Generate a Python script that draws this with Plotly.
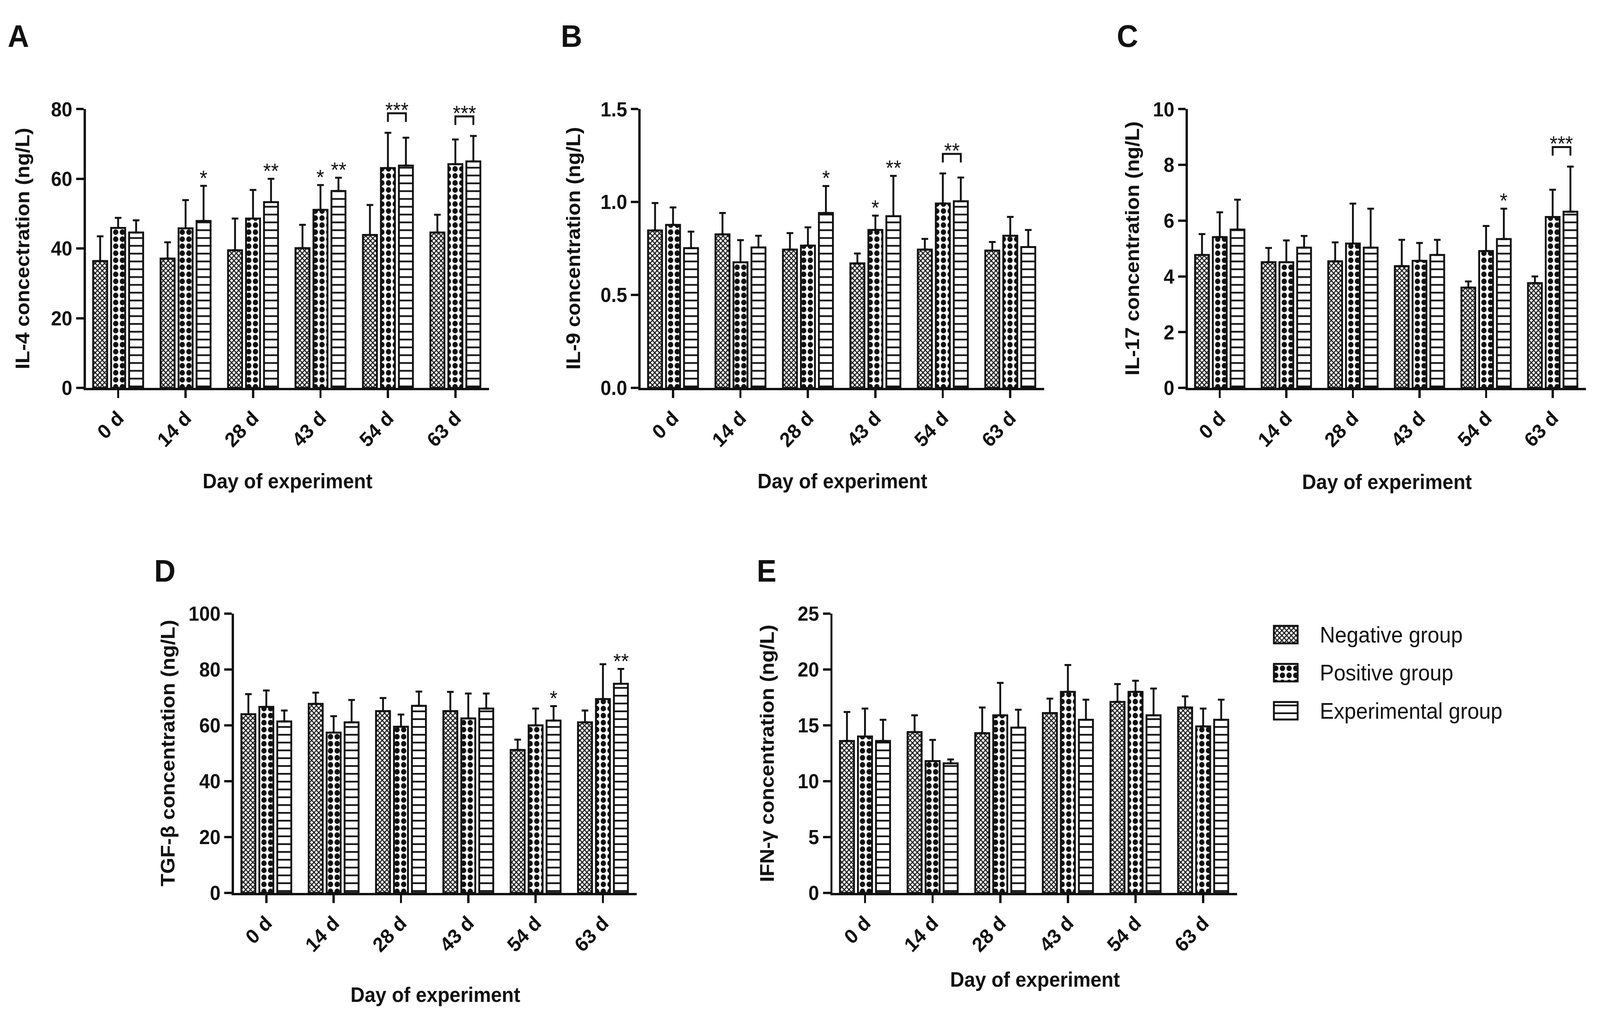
import plotly.graph_objects as go

# ---------------- data ----------------
days = ["0 d", "14 d", "28 d", "43 d", "54 d", "63 d"]
groups = ["Negative group", "Positive group", "Experimental group"]

# A: IL-4
il4_neg = [36.4, 37.1, 39.5, 40.1, 43.9, 44.6]
il4_neg_sd = [7.1, 4.7, 9.1, 6.7, 8.6, 5.1]
il4_pos = [45.9, 45.8, 48.6, 51.1, 63.1, 64.2]
il4_pos_sd = [2.9, 8.1, 8.2, 7.1, 10.1, 7.1]
il4_exp = [44.6, 47.9, 53.3, 56.5, 63.8, 65.0]
il4_exp_sd = [3.5, 10.1, 6.7, 3.8, 8.0, 7.3]
il4_ticks = [0, 20, 40, 60, 80]
il4_ticktext = ["0", "20", "40", "60", "80"]
il4_stars = [(1, 2, "*"), (2, 2, "**"), (3, 1, "*"), (3, 2, "**")]
il4_brackets = [(4, "***"), (5, "***")]

# B: IL-9
il9_neg = [0.847, 0.826, 0.744, 0.670, 0.744, 0.739]
il9_neg_sd = [0.148, 0.115, 0.089, 0.053, 0.058, 0.046]
il9_pos = [0.877, 0.676, 0.766, 0.850, 0.992, 0.819]
il9_pos_sd = [0.094, 0.119, 0.098, 0.077, 0.162, 0.101]
il9_exp = [0.752, 0.756, 0.941, 0.924, 1.004, 0.758]
il9_exp_sd = [0.089, 0.063, 0.145, 0.217, 0.128, 0.092]
il9_ticks = [0, 0.5, 1.0, 1.5]
il9_ticktext = ["0.0", "0.5", "1.0", "1.5"]
il9_stars = [(2, 2, "*"), (3, 1, "*"), (3, 2, "**")]
il9_brackets = [(4, "**")]

# C: IL-17
il17_neg = [4.77, 4.51, 4.54, 4.37, 3.60, 3.76]
il17_neg_sd = [0.75, 0.51, 0.68, 0.94, 0.22, 0.24]
il17_pos = [5.41, 4.51, 5.18, 4.56, 4.91, 6.13]
il17_pos_sd = [0.89, 0.78, 1.43, 0.64, 0.90, 0.98]
il17_exp = [5.68, 5.03, 5.03, 4.77, 5.34, 6.32]
il17_exp_sd = [1.07, 0.42, 1.40, 0.54, 1.09, 1.62]
il17_ticks = [0, 2, 4, 6, 8, 10]
il17_ticktext = ["0", "2", "4", "6", "8", "10"]
il17_stars = [(4, 2, "*")]
il17_brackets = [(5, "***")]

# D: TGF-beta
tgf_neg = [64.0, 67.7, 65.1, 65.1, 51.2, 61.1]
tgf_neg_sd = [7.2, 4.0, 4.7, 6.9, 3.7, 4.2]
tgf_pos = [66.6, 57.4, 59.5, 62.5, 60.0, 69.4]
tgf_pos_sd = [5.9, 5.9, 4.4, 8.9, 6.0, 12.5]
tgf_exp = [61.4, 61.1, 67.0, 66.0, 61.7, 74.9]
tgf_exp_sd = [3.9, 8.0, 5.1, 5.4, 5.2, 5.3]
tgf_ticks = [0, 20, 40, 60, 80, 100]
tgf_ticktext = ["0", "20", "40", "60", "80", "100"]
tgf_stars = [(4, 2, "*"), (5, 2, "**")]
tgf_brackets = []

# E: IFN-gamma
ifn_neg = [13.6, 14.4, 14.3, 16.1, 17.1, 16.6]
ifn_neg_sd = [2.6, 1.5, 2.3, 1.3, 1.6, 1.0]
ifn_pos = [14.0, 11.8, 15.9, 18.0, 18.0, 14.9]
ifn_pos_sd = [2.5, 1.9, 2.9, 2.4, 1.0, 1.6]
ifn_exp = [13.6, 11.6, 14.8, 15.5, 15.9, 15.5]
ifn_exp_sd = [1.9, 0.35, 1.6, 1.8, 2.4, 1.8]
ifn_ticks = [0, 5, 10, 15, 20, 25]
ifn_ticktext = ["0", "5", "10", "15", "20", "25"]
ifn_stars = []
ifn_brackets = []

x_title = "Day of experiment"

panels = [
    dict(letter="A", ytitle="IL-4 concectration (ng/L)",
         series=[(il4_neg, il4_neg_sd), (il4_pos, il4_pos_sd), (il4_exp, il4_exp_sd)],
         ticks=il4_ticks, ticktext=il4_ticktext, stars=il4_stars, brackets=il4_brackets),
    dict(letter="B", ytitle="IL-9 concentration (ng/L)",
         series=[(il9_neg, il9_neg_sd), (il9_pos, il9_pos_sd), (il9_exp, il9_exp_sd)],
         ticks=il9_ticks, ticktext=il9_ticktext, stars=il9_stars, brackets=il9_brackets),
    dict(letter="C", ytitle="IL-17 concentration (ng/L)",
         series=[(il17_neg, il17_neg_sd), (il17_pos, il17_pos_sd), (il17_exp, il17_exp_sd)],
         ticks=il17_ticks, ticktext=il17_ticktext, stars=il17_stars, brackets=il17_brackets),
    dict(letter="D", ytitle="TGF-β concentration (ng/L)",
         series=[(tgf_neg, tgf_neg_sd), (tgf_pos, tgf_pos_sd), (tgf_exp, tgf_exp_sd)],
         ticks=tgf_ticks, ticktext=tgf_ticktext, stars=tgf_stars, brackets=tgf_brackets),
    dict(letter="E", ytitle="IFN-γ concentration (ng/L)",
         series=[(ifn_neg, ifn_neg_sd), (ifn_pos, ifn_pos_sd), (ifn_exp, ifn_exp_sd)],
         ticks=ifn_ticks, ticktext=ifn_ticktext, stars=ifn_stars, brackets=ifn_brackets),
]

# ---------------- style / layout ----------------
W, H = 4328, 2619
FONT = "Liberation Sans, Arial, Helvetica, sans-serif"
INK = "#111111"

def fx(p):
    return p / W

def fy(p):
    return 1 - p / H

# x0, x1, y_top, y_bottom, letter_x, letter_y, ytitle_x, xtitle_y  (pixels)
boxes = [
    (232, 1323, 256, 986, 19, 17, 60, 1230),
    (1733, 2824, 256, 986, 1515, 17, 1550, 1230),
    (3213, 4290, 256, 986, 3019, 17, 3062, 1232),
    (633, 1722, 1577, 2308, 415, 1417, 454, 2575),
    (2252, 3346, 1577, 2308, 2045, 1417, 2075, 2535),
]

patterns = [
    dict(shape="x", size=9, solidity=0.5),
    dict(shape=".", size=18, solidity=0.5),
    dict(shape="-", size=20, solidity=0.22),
]

BARGAP = 0.2
GROUPGAP = 0.22
SLOT = (1 - BARGAP) / 3

fig = go.Figure()
annotations = []
shapes = []
layout = {}
xs = list(range(len(days)))

for i, (p, b) in enumerate(zip(panels, boxes)):
    n = "" if i == 0 else str(i + 1)
    xa, ya = "x" + n, "y" + n
    x0, x1, yt, yb, lx, ly, tx, xty = b
    for g, (vals, sds) in enumerate(p["series"]):
        pat = patterns[g]
        fig.add_trace(go.Bar(
            x=xs, y=vals, xaxis=xa, yaxis=ya, name=groups[g], showlegend=False,
            marker=dict(color="white", line=dict(color=INK, width=5),
                        pattern=dict(shape=pat["shape"], size=pat["size"],
                                     solidity=pat["solidity"], fgcolor=INK,
                                     bgcolor="white", fillmode="replace")),
            error_y=dict(type="data", symmetric=False, array=sds,
                         arrayminus=[0] * len(sds), color=INK, thickness=5, width=9),
        ))
    ymax = p["ticks"][-1]
    layout["xaxis" + n] = dict(
        domain=[fx(x0), fx(x1)], anchor=ya, range=[-0.48, 5.5],
        tickvals=xs, ticktext=days, tickangle=-45,
        showline=True, linecolor=INK, linewidth=6, ticks="outside", ticklen=20,
        tickwidth=6, tickcolor=INK, showgrid=False, zeroline=False,
        tickfont=dict(family=FONT, size=52, color=INK, weight="bold"),
    )
    layout["yaxis" + n] = dict(
        domain=[fy(yb), fy(yt)], anchor=xa, range=[0, ymax],
        tickvals=p["ticks"], ticktext=p["ticktext"],
        showline=True, linecolor=INK, linewidth=6, ticks="outside", ticklen=20,
        tickwidth=6, tickcolor=INK, showgrid=False, zeroline=False,
        tickfont=dict(family=FONT, size=52, color=INK, weight="bold"),
    )
    annotations.append(dict(text="<b>%s</b>" % p["letter"], xref="paper", yref="paper",
                            x=fx(lx), y=fy(ly), xanchor="left", yanchor="top",
                            showarrow=False, font=dict(family=FONT, size=80, color=INK)))
    annotations.append(dict(text="<b>%s</b>" % p["ytitle"], xref="paper", yref="paper",
                            x=fx(tx), y=fy((yt + yb) / 2), xanchor="center", yanchor="middle",
                            textangle=-90, showarrow=False,
                            font=dict(family=FONT, size=53, color=INK)))
    annotations.append(dict(text="<b>%s</b>" % x_title, xref="paper", yref="paper",
                            x=fx((x0 + x1) / 2), y=fy(xty), xanchor="center", yanchor="middle",
                            showarrow=False, font=dict(family=FONT, size=53, color=INK)))
    for day, g, txt in p["stars"]:
        vals, sds = p["series"][g]
        annotations.append(dict(text=txt, xref=xa, yref=ya,
                                x=day + (g - 1) * SLOT, y=vals[day] + sds[day],
                                xanchor="center", yanchor="bottom", yshift=-11,
                                showarrow=False, font=dict(family=FONT, size=54, color=INK)))
    for day, txt in p["brackets"]:
        (pv, ps), (ev, es) = p["series"][1], p["series"][2]
        anchor = max(pv[day] + ps[day], ev[day] + es[day])
        bx0, bx1 = day, day + SLOT
        shapes.append(dict(type="path", xref=xa, yref=ya, ysizemode="pixel", yanchor=anchor,
                           path="M%f,28 L%f,50 L%f,50 L%f,28" % (bx0, bx0, bx1, bx1),
                           line=dict(color=INK, width=5)))
        annotations.append(dict(text=txt, xref=xa, yref=ya, x=(bx0 + bx1) / 2, y=anchor,
                                xanchor="center", yanchor="bottom", yshift=27,
                                showarrow=False, font=dict(family=FONT, size=54, color=INK)))

# ---------------- custom legend (swatches as a small subplot) ----------------
legend_pos = [0, 1, 2]
legend_len = [1, 1, 1]
fig.add_trace(go.Bar(
    x=legend_len, y=legend_pos, orientation="h", xaxis="x6", yaxis="y6", width=0.46,
    showlegend=False, hoverinfo="skip",
    marker=dict(color="white", line=dict(color=INK, width=5),
                pattern=dict(shape=[pt["shape"] for pt in patterns],
                             size=[pt["size"] for pt in patterns],
                             solidity=[pt["solidity"] for pt in patterns],
                             fgcolor=INK, bgcolor="white", fillmode="replace")),
))
layout["xaxis6"] = dict(domain=[fx(3442), fx(3514)], anchor="y6", range=[-0.06, 1.06], visible=False)
layout["yaxis6"] = dict(domain=[fy(1881), fy(1582)], anchor="x6", range=[2.5, -0.5], visible=False)
for gi, name in zip(legend_pos, groups):
    annotations.append(dict(text=name, xref="paper", yref="y6", x=fx(3568), y=gi,
                            xanchor="left", yanchor="middle", showarrow=False,
                            font=dict(family=FONT, size=57, color=INK)))

fig.update_layout(
    width=W, height=H, autosize=False,
    margin=dict(l=0, r=0, t=0, b=0),
    paper_bgcolor="white", plot_bgcolor="white",
    barmode="group", bargap=BARGAP, bargroupgap=GROUPGAP,
    annotations=annotations, shapes=shapes,
    font=dict(family=FONT, color=INK),
    **layout,
)

# pin the 4328x2619 figure to the viewport's top-left and fit it exactly
fit_js = """
var gd = document.getElementById('{plot_id}');
document.documentElement.style.margin = '0';
document.body.style.margin = '0';
document.body.style.overflow = 'hidden';
var sx = window.innerWidth / %d, sy = window.innerHeight / %d;
gd.style.position = 'fixed';
gd.style.left = '0px';
gd.style.top = '0px';
gd.style.transformOrigin = '0 0';
gd.style.transform = 'scale(' + sx + ',' + sy + ')';
""" % (W, H)

fig.write_html("out.html", post_script=fit_js, config={"displayModeBar": False})
